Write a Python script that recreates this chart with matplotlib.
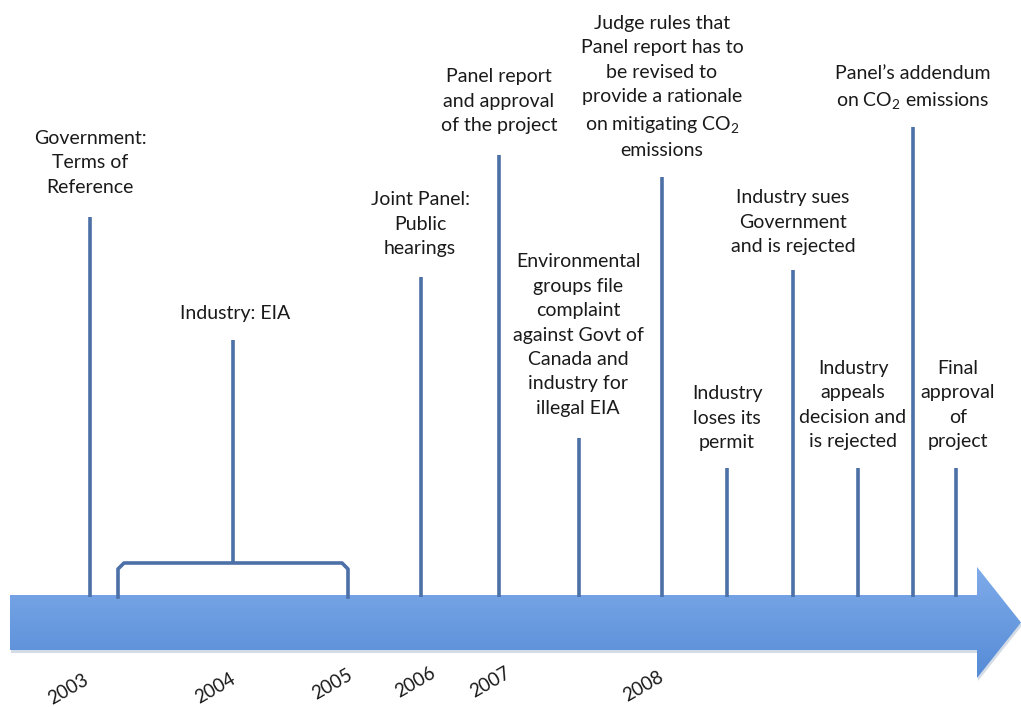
import numpy as np
import matplotlib.pyplot as plt
from matplotlib.patches import Polygon

plt.rcParams['font.family'] = ['Lato', 'DejaVu Sans']
plt.rcParams['mathtext.fontset'] = 'custom'
plt.rcParams['mathtext.rm'] = 'Lato'
plt.rcParams['mathtext.it'] = 'Lato:italic'

# timeline events (position along the timeline, height of the stem top)
labels = [
    'Government:\nTerms of\nReference',
    'Industry: EIA',
    'Joint Panel:\nPublic\nhearings',
    'Panel report\nand approval\nof the project',
    'Environmental\ngroups file\ncomplaint\nagainst Govt of\nCanada and\nindustry for\nillegal EIA',
    'Judge rules that\nPanel report has to\nbe revised to\nprovide a rationale\non mitigating CO$_2$\nemissions',
    'Industry\nloses its\npermit',
    'Industry sues\nGovernment\nand is rejected',
    'Industry\nappeals\ndecision and\nis rejected',
    'Panel\u2019s addendum\non CO$_2$ emissions',
    'Final\napproval\nof\nproject',
]
event_x = [90, 233, 421, 499, 579, 662, 727, 793, 858, 913, 956]
stem_top = [217, 340, 277, 155, 438, 177, 468, 270, 468, 127, 468]
label_y = [163, 313, 224, 101, 335, 87, 418, 222, 405, 88, 405]
label_x = [90, 235, 420, 499, 578, 662, 727, 793, 853, 913, 958]

# EIA period bracket
eia_start, eia_end = 118, 348

years = ['2003', '2004', '2005', '2006', '2007', '2008']
year_x = [68, 215, 332, 415, 490, 643]
year_y = [689, 688, 684, 682, 682, 686]

fig = plt.figure(figsize=(10.21, 7.07), dpi=100)
ax = fig.add_axes([0, 0, 1, 1])
ax.set_xlim(0, 1021)
ax.set_ylim(707, 0)
ax.axis('off')

# arrow with vertical gradient
shaft_top, shaft_bot = 595, 650
head_x, head_top, head_bot = 977, 567, 678
arrow_pts = [(10, shaft_top), (head_x, shaft_top), (head_x, head_top),
             (1021, (head_top + head_bot) / 2), (head_x, head_bot),
             (head_x, shaft_bot), (10, shaft_bot)]
shadow = Polygon([(x + 1, y + 3) for x, y in arrow_pts], closed=True,
                 facecolor='#d3dbe6', edgecolor='none', zorder=1)
ax.add_patch(shadow)
arrow = Polygon(arrow_pts, closed=True, facecolor='none', edgecolor='none', zorder=2)
ax.add_patch(arrow)
grad = np.linspace(0, 1, 256).reshape(-1, 1)
top_c = np.array([0x7f, 0xab, 0xea]) / 255
bot_c = np.array([0x55, 0x8b, 0xd6]) / 255
img = top_c[None, None, :] * (1 - grad[:, :, None]) + bot_c[None, None, :] * grad[:, :, None]
im = ax.imshow(img, extent=(10, 1021, head_bot, head_top), aspect='auto', zorder=2)
im.set_clip_path(arrow)

line_c = '#4c70a8'
txt_c = '#1a1a1a'
fs = 14

for i, lab in enumerate(labels):
    bottom = 563 if i == 1 else shaft_top + 2
    ax.plot([event_x[i], event_x[i]], [stem_top[i], bottom], color=line_c, lw=2.6,
            solid_capstyle='butt', zorder=3)
    ax.text(label_x[i], label_y[i], lab, ha='center', va='center', fontsize=fs,
            color=txt_c, linespacing=1.53, zorder=4)

# bracket
r = 6
bx = [eia_start, eia_start, eia_start + r, eia_end - r, eia_end, eia_end]
by = [shaft_top + 2, 563 + r, 563, 563, 563 + r, shaft_top + 2]
ax.plot(bx, by, color=line_c, lw=2.6, zorder=3)

for yr, x, y in zip(years, year_x, year_y):
    ax.text(x, y, yr, rotation=30, ha='center', va='center', fontsize=13.5,
            color=txt_c, rotation_mode='anchor')

fig.savefig('out.png', dpi=100, facecolor='white')
